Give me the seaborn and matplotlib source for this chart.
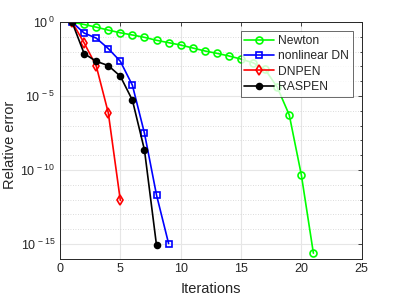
import numpy as np
import pandas as pd
import seaborn as sns
import matplotlib
matplotlib.use('Agg')
import matplotlib.pyplot as plt
from matplotlib.ticker import FixedLocator, NullFormatter

# log10 of the relative error per iteration
newton_it = list(range(1, 22))
newton_err = [0, -0.16, -0.34, -0.54, -0.72, -0.87, -1.03, -1.23, -1.39, -1.55,
              -1.75, -1.95, -2.11, -2.29, -2.5, -2.75, -3.2, -4.4, -6.28, -10.33, -15.63]
dn_it = list(range(1, 10))
dn_err = [0, -0.74, -1.08, -1.79, -2.65, -4.27, -7.52, -11.7, -14.98]
dnpen_it = list(range(1, 6))
dnpen_err = [0, -1.41, -2.96, -6.13, -12.06]
raspen_it = list(range(1, 9))
raspen_err = [0, -2.13, -2.65, -2.94, -3.66, -5.28, -8.65, -15.11]

series = [
    ('Newton', newton_it, newton_err, '#00ff00', 'o', 5, 'none'),
    ('nonlinear DN', dn_it, dn_err, '#0000ff', 's', 4.5, 'none'),
    ('DNPEN', dnpen_it, dnpen_err, '#ff0000', 'd', 5, 'none'),
    ('RASPEN', raspen_it, raspen_err, '#000000', '.', 8.5, '#000000'),
]

sns.set_style('white')
plt.rcParams['font.family'] = ['Liberation Sans', 'DejaVu Sans']
plt.rcParams['mathtext.fontset'] = 'custom'
plt.rcParams['mathtext.rm'] = 'Liberation Sans'
plt.rcParams['mathtext.it'] = 'Liberation Sans'

fig = plt.figure(figsize=(3.99, 2.99), dpi=100)
ax = fig.add_axes([0.1504, 0.135, 0.756, 0.791])

for name, it, err, col, mk, ms, mfc in series:
    df = pd.DataFrame({'it': it, 'err': 10.0 ** np.array(err)})
    sns.lineplot(data=df, x='it', y='err', ax=ax, color=col, marker=mk, markersize=ms,
                 markerfacecolor=mfc, markeredgecolor=col, markeredgewidth=1.2,
                 linewidth=1.2, label=name)

ax.set_yscale('log')
ax.set_xlim(0, 25)
ax.set_ylim(1e-16, 1e0)
ax.set_xticks([0, 5, 10, 15, 20, 25])
ax.set_yticks([1e0, 1e-5, 1e-10, 1e-15])
ax.set_yticklabels([r'$10^{\,0}$', r'$10^{\,-5}$', r'$10^{\,-10}$', r'$10^{\,-15}$'])
ax.yaxis.set_minor_locator(FixedLocator([10.0 ** k for k in range(-16, 1)]))
ax.yaxis.set_minor_formatter(NullFormatter())

ax.grid(True, which='major', color='#e6e6e6', linewidth=0.8, linestyle='-')
ax.grid(True, which='minor', axis='y', color='#d0d0d0', linewidth=0.6, linestyle=(0, (1, 2)))
ax.set_axisbelow(True)

ax.tick_params(which='both', direction='in', top=True, right=True, labelsize=9,
               colors='#262626', length=3, width=0.6)
ax.tick_params(which='minor', length=1.5)
for sp in ax.spines.values():
    sp.set_visible(True)
    sp.set_color('#262626')
    sp.set_linewidth(0.7)

ax.set_xlabel('Iterations', fontsize=10.5, color='#262626', labelpad=5)
ax.set_ylabel('Relative error', fontsize=10.5, color='#262626')
ax.yaxis.set_label_coords(-0.142, 0.48)

leg = ax.legend(loc='upper right', bbox_to_anchor=(0.97, 0.962), fontsize=8.7, frameon=True,
                fancybox=False, edgecolor='#262626', handlelength=2.5, borderpad=0.3,
                labelspacing=0.28, handletextpad=0.3, borderaxespad=0)
leg.get_frame().set_linewidth(0.6)

fig.savefig('out.png', dpi=100)
